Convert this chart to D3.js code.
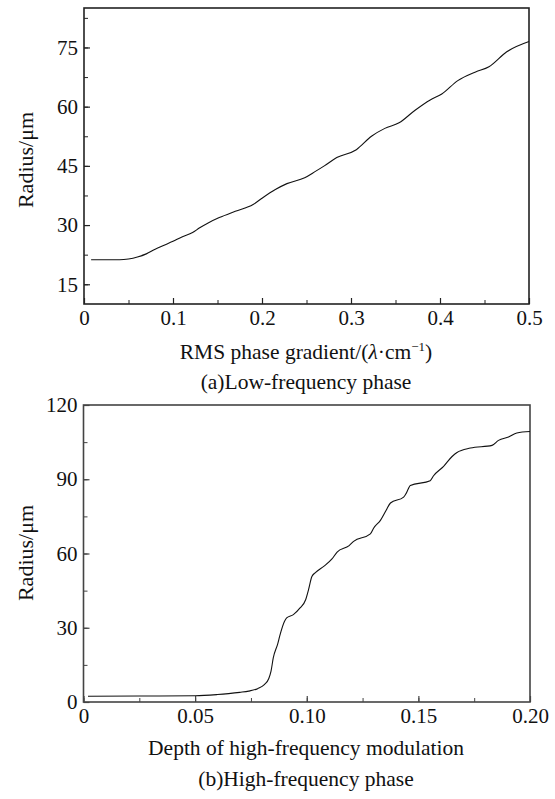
<!DOCTYPE html>
<html>
<head>
<meta charset="utf-8">
<script src="https://cdn.jsdelivr.net/npm/d3@7"></script>
<style>
  body { margin: 0; background: #fff; }
</style>
</head>
<body>
<svg id="fig" width="555" height="799"></svg>
<script>
// (a) low-frequency phase: RMS phase gradient vs radius
var lowX = [0.008, 0.02, 0.04, 0.05, 0.06, 0.07, 0.08, 0.09, 0.10, 0.11, 0.122, 0.13, 0.14, 0.152, 0.17, 0.19, 0.20, 0.215, 0.228, 0.248, 0.26, 0.27, 0.284, 0.306, 0.323, 0.338, 0.354, 0.372, 0.389, 0.402, 0.42, 0.44, 0.455, 0.475, 0.5];
var lowY = [21.2, 21.2, 21.2, 21.4, 21.9, 22.7, 23.9, 24.9, 25.9, 27.0, 28.1, 29.3, 30.6, 31.9, 33.5, 35.2, 36.8, 39.0, 40.5, 42.0, 43.6, 45.0, 47.1, 49.1, 52.5, 54.5, 55.9, 59.1, 61.7, 63.2, 66.6, 68.8, 70.1, 73.9, 76.5];

// (b) high-frequency phase: modulation depth vs radius
var highX = [0.002, 0.025, 0.05, 0.06, 0.065, 0.07, 0.074, 0.078, 0.081, 0.083, 0.084, 0.085, 0.087, 0.088, 0.090, 0.091, 0.094, 0.097, 0.0995, 0.1008, 0.1023, 0.104, 0.1076, 0.1113, 0.1136, 0.119, 0.121, 0.1285, 0.130, 0.133, 0.1357, 0.1375, 0.1434, 0.1446, 0.1464, 0.1553, 0.1568, 0.1613, 0.1651, 0.1673, 0.1733, 0.183, 0.1859, 0.1904, 0.1941, 0.2];
var highY = [2.3, 2.4, 2.5, 3.0, 3.4, 3.9, 4.4, 5.4, 7.0, 9.5, 12.5, 17.8, 23.5, 27.0, 32.5, 34.0, 35.3, 38.0, 41.3, 45.4, 50.7, 52.4, 54.8, 57.8, 60.6, 63.2, 64.9, 67.9, 70.3, 73.4, 77.7, 80.4, 82.8, 84.4, 87.5, 89.4, 91.4, 95.2, 99.2, 100.8, 102.6, 103.7, 105.7, 107.1, 108.7, 109.3];

var lowXTicks = [0, 0.1, 0.2, 0.3, 0.4, 0.5];
var lowYTicks = [15, 30, 45, 60, 75];
var highXTicks = [0, 0.05, 0.10, 0.15, 0.20];
var highYTicks = [0, 30, 60, 90, 120];

var SERIF = "'Liberation Serif', 'Times New Roman', Times, 'DejaVu Serif', serif";

var svg = d3.select("#fig");

function panel(opt) {
  var g = svg.append("g");
  var x = d3.scaleLinear().domain(opt.xDomain).range([opt.left, opt.right]);
  var y = d3.scaleLinear().domain(opt.yDomain).range([opt.bottom, opt.top]);

  // minor ticks (inward)
  var xMinor = d3.range(opt.xDomain[0], opt.xDomain[1] + 1e-9, opt.xStep / 2);
  var yMinor = d3.range(opt.yMinorStart, opt.yDomain[1] + 1e-9, opt.yStep / 2);

  g.append("g")
    .attr("transform", "translate(0," + opt.bottom + ")")
    .call(d3.axisBottom(x).tickValues(xMinor).tickSize(-4).tickFormat(""))
    .call(function (a) { a.select(".domain").remove(); a.selectAll("line").attr("stroke", opt.frame); });

  g.append("g")
    .attr("transform", "translate(" + opt.left + ",0)")
    .call(d3.axisLeft(y).tickValues(yMinor).tickSize(-4).tickFormat(""))
    .call(function (a) { a.select(".domain").remove(); a.selectAll("line").attr("stroke", opt.frame); });

  // major ticks with labels
  var xa = g.append("g")
    .attr("transform", "translate(0," + opt.bottom + ")")
    .call(d3.axisBottom(x).tickValues(opt.xTicks).tickSize(-6).tickPadding(6).tickFormat(opt.xFmt));
  xa.attr("font-family", SERIF).attr("font-size", 21);
  xa.select(".domain").remove();
  xa.selectAll("line").attr("stroke", opt.frame).attr("stroke-width", 1.2);
  xa.selectAll("text").attr("dy", "0.71em").attr("fill", "#111");

  var ya = g.append("g")
    .attr("transform", "translate(" + opt.left + ",0)")
    .call(d3.axisLeft(y).tickValues(opt.yTicks).tickSize(-6).tickPadding(6).tickFormat(d3.format("d")));
  ya.attr("font-family", SERIF).attr("font-size", 21);
  ya.select(".domain").remove();
  ya.selectAll("line").attr("stroke", opt.frame).attr("stroke-width", 1.2);
  ya.selectAll("text").attr("fill", "#111");

  // frame
  g.append("rect")
    .attr("x", opt.left).attr("y", opt.top)
    .attr("width", opt.right - opt.left).attr("height", opt.bottom - opt.top)
    .attr("fill", "none").attr("stroke", opt.frame).attr("stroke-width", 1.6);

  // curve
  var pts = opt.xs.map(function (d, i) { return [d, opt.ys[i]]; });
  g.append("path")
    .datum(pts)
    .attr("fill", "none")
    .attr("stroke", "#111")
    .attr("stroke-width", 1.1)
    .attr("d", d3.line().x(function (d) { return x(d[0]); }).y(function (d) { return y(d[1]); }).curve(d3.curveMonotoneX));

  // y title
  g.append("text")
    .attr("transform", "translate(" + 33 + "," + opt.titleY + ") rotate(-90)")
    .attr("text-anchor", "middle")
    .attr("font-family", SERIF)
    .attr("font-size", 22)
    .attr("fill", "#111")
    .text("Radius/\u03bcm");

  return {g: g, x: x, y: y};
}

function caption(g, yPos, str) {
  return g.append("text")
    .attr("x", 306).attr("y", yPos)
    .attr("text-anchor", "middle")
    .attr("font-family", SERIF)
    .attr("font-size", 21.5)
    .attr("fill", "#111")
    .text(str);
}

var a = panel({
  left: 84, right: 529, top: 8, bottom: 304, titleY: 160,
  xDomain: [0, 0.5], yDomain: [10, 85], xStep: 0.1, yStep: 15, yMinorStart: 15,
  xTicks: lowXTicks, yTicks: lowYTicks, xFmt: function (d) { return d === 0 ? "0" : d3.format(".1f")(d); },
  xs: lowX, ys: lowY, frame: "#222"
});

var t1 = caption(a.g, 359, "");
t1.append("tspan").text("RMS phase gradient/(");
t1.append("tspan").attr("font-style", "italic").text("\u03bb");
t1.append("tspan").text("\u00b7cm");
t1.append("tspan").attr("font-size", 13).attr("dy", -8).text("\u22121");
t1.append("tspan").attr("dy", 8).text(")");

caption(a.g, 389, "(a)Low-frequency phase");

var b = panel({
  left: 83.5, right: 530, top: 405, bottom: 702, titleY: 553,
  xDomain: [0, 0.2], yDomain: [0, 120], xStep: 0.05, yStep: 30, yMinorStart: 15,
  xTicks: highXTicks, yTicks: highYTicks, xFmt: function (d) { return d === 0 ? "0" : d3.format(".2f")(d); },
  xs: highX, ys: highY, frame: "#444"
});

caption(b.g, 755, "Depth of high-frequency modulation");
caption(b.g, 786, "(b)High-frequency phase");
</script>
</body>
</html>
